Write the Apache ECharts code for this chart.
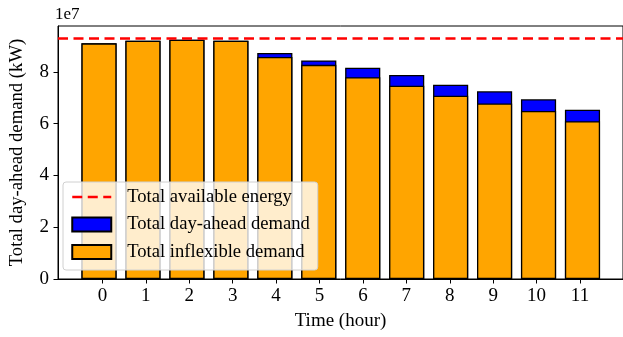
<!DOCTYPE html>
<html>
<head>
<meta charset="utf-8">
<script src="https://cdn.jsdelivr.net/npm/echarts@6/dist/echarts.min.js"></script>
<style>
  html, body { margin: 0; padding: 0; background: #fff; }
  #chart { width: 623px; height: 337px; }
</style>
</head>
<body>
<div id="chart"></div>
<script>
// hours on the x axis
var hours = [0, 1, 2, 3, 4, 5, 6, 7, 8, 9, 10, 11];
// total day-ahead demand (kW)
var totalDemand = [9.10e7, 9.20e7, 9.24e7, 9.20e7, 8.73e7, 8.44e7, 8.16e7, 7.88e7, 7.50e7, 7.25e7, 6.94e7, 6.54e7];
// inflexible part of it (kW)
var inflexDemand = [9.10e7, 9.20e7, 9.24e7, 9.20e7, 8.57e7, 8.27e7, 7.79e7, 7.46e7, 7.08e7, 6.78e7, 6.49e7, 6.09e7];
var availableEnergy = 9.29e7;
var yTicks = [0, 2e7, 4e7, 6e7, 8e7];

var font = "'Liberation Serif', 'Times New Roman', serif";
var dash = [10, 5.5];

// frame axis: x from -1.024 to 11.99 over 572px, so one hour = 43.95px
var xMin = -1.024, xMax = 11.99, yMax = 9.77e7;
var plotLeft = 54, plotWidth = 572, plotTop = 26, plotHeight = 253;
var unit = plotWidth / (xMax - xMin);
// bars sit in a second grid whose category bands line up with the frame axis
var barLeft = plotLeft + (-0.5 - xMin) * unit;

var myChart = echarts.init(document.getElementById('chart'));

myChart.setOption({
  animation: false,
  textStyle: { fontFamily: font },
  grid: [
    { left: plotLeft, top: plotTop, width: plotWidth, height: plotHeight,
      show: true, borderColor: '#000', borderWidth: 1 },
    { left: barLeft, top: plotTop, width: hours.length * unit, height: plotHeight }
  ],
  xAxis: [
    {
      type: 'value', gridIndex: 0,
      min: xMin, max: xMax,
      name: 'Time (hour)',
      nameLocation: 'middle',
      nameGap: 33,
      nameTextStyle: { color: '#000', fontSize: 19, fontFamily: font },
      splitLine: { show: false },
      axisLine: { onZero: false, lineStyle: { color: '#000', width: 1 } },
      axisTick: { show: true, length: 4.5, customValues: hours, lineStyle: { color: '#000' } },
      axisLabel: { customValues: hours, color: '#000', fontSize: 19, fontFamily: font, margin: 8 }
    },
    {
      type: 'category', gridIndex: 1,
      data: hours,
      show: false
    }
  ],
  yAxis: [
    {
      type: 'value', gridIndex: 0,
      min: 0, max: yMax,
      name: 'Total day-ahead demand (kW)',
      nameLocation: 'middle',
      nameGap: 31,
      nameTextStyle: { color: '#000', fontSize: 18.7, fontFamily: font },
      splitLine: { show: false },
      axisLine: { show: true, onZero: false, lineStyle: { color: '#000', width: 1 } },
      axisTick: { show: true, length: 4.5, customValues: yTicks, lineStyle: { color: '#000' } },
      axisLabel: {
        customValues: yTicks,
        color: '#000', fontSize: 19, fontFamily: font, margin: 9,
        formatter: function (v) { return String(Math.round(v / 1e7)); }
      }
    },
    {
      type: 'value', gridIndex: 1,
      min: 0, max: yMax,
      show: false, splitLine: { show: false }
    }
  ],
  legend: {
    orient: 'vertical',
    left: 63, top: 182,
    padding: [5, 8, 8, 8],
    itemWidth: 39, itemHeight: 14, itemGap: 7.5,
    backgroundColor: 'rgba(255,255,255,0.8)',
    borderColor: '#d0d0d0', borderWidth: 1, borderRadius: 3,
    textStyle: { color: '#000', fontSize: 18.6, fontFamily: font, lineHeight: 20, padding: [0, 0, 0, 11] },
    data: [
      { name: 'Total available energy',
        itemStyle: { color: 'rgba(0,0,0,0)', borderWidth: 0, opacity: 0 },
        lineStyle: { color: '#FF0000', width: 2.5, type: dash } },
      { name: 'Total day-ahead demand', icon: 'rect' },
      { name: 'Total inflexible demand', icon: 'rect' }
    ]
  },
  graphic: [{
    type: 'text', left: 55, top: 6,
    style: { text: '1e7', fill: '#000', fontSize: 17, fontFamily: font }
  }],
  series: [
    {
      name: 'Total day-ahead demand',
      type: 'bar',
      xAxisIndex: 1, yAxisIndex: 1,
      barWidth: '80%',
      barGap: '-100%',
      itemStyle: { color: '#0000FF', borderColor: '#000', borderWidth: 1.3 },
      data: totalDemand
    },
    {
      name: 'Total inflexible demand',
      type: 'bar',
      xAxisIndex: 1, yAxisIndex: 1,
      barWidth: '80%',
      barGap: '-100%',
      itemStyle: { color: '#FFA500', borderColor: '#000', borderWidth: 1.3 },
      data: inflexDemand
    },
    {
      name: 'Total available energy',
      type: 'line',
      xAxisIndex: 0, yAxisIndex: 0,
      symbol: 'none',
      data: [],
      z: 5,
      lineStyle: { color: '#FF0000', type: dash, width: 2.5 },
      itemStyle: { color: '#FF0000' },
      markLine: {
        silent: true,
        symbol: 'none',
        label: { show: false },
        lineStyle: { color: '#FF0000', type: dash, width: 2.5 },
        data: [{ yAxis: availableEnergy }]
      }
    }
  ]
});
</script>
</body>
</html>
